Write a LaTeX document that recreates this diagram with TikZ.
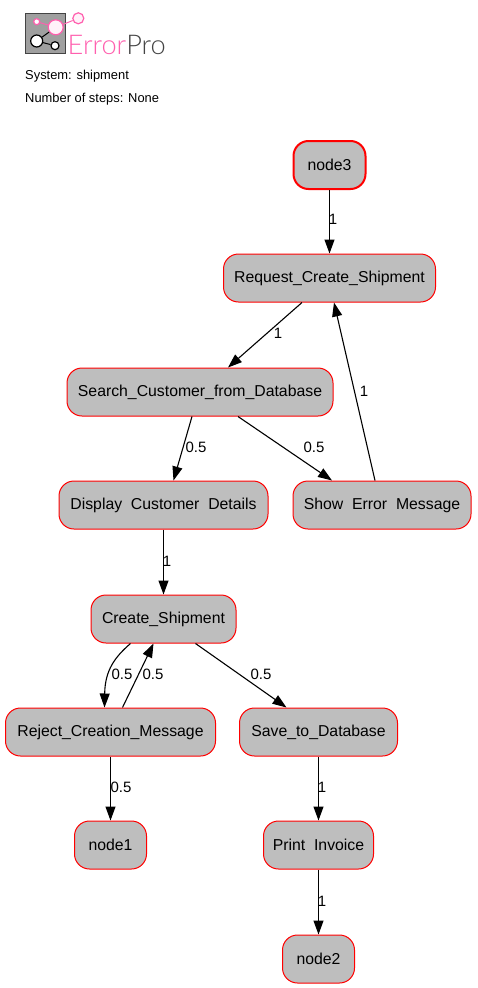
\documentclass[tikz,border=0pt]{standalone}
\usepackage{fontspec}
\setmainfont{Liberation Sans}
\newfontfamily\logofont{Lato Light}
\usetikzlibrary{arrows.meta}
\definecolor{boxgray}{HTML}{BEBEBE}
\definecolor{logopink}{HTML}{FF5FAE}
\definecolor{logodark}{HTML}{444444}
\tikzset{
  state/.style={draw=red,fill=boxgray,rounded corners=15pt,line width=1pt,inner sep=0pt,minimum height=48pt,font=\fontsize{15.8}{18}\selectfont,text=black},
  startstate/.style={state,line width=2pt},
  flow/.style={draw=black,line width=1.1pt,-{Triangle[length=14pt,width=10pt]}},
  weight/.style={inner sep=0pt,font=\fontsize{15}{17}\selectfont},
  caption/.style={inner sep=0pt,anchor=west,font=\fontsize{12.9}{15}\selectfont},
  logodot/.style={circle,inner sep=0pt,fill=white,draw=logopink,line width=1.2pt},
  logodotdark/.style={circle,inner sep=0pt,fill=white,draw=black,line width=1.2pt}
}
\begin{document}
\begin{tikzpicture}[x=1pt,y=-1pt]
\useasboundingbox (0,0) rectangle (477,988);
% logo
\draw[fill=gray!75,draw=logodark,line width=1pt] (25.5,13.5) rectangle (65,53.5);
\node[logodot,minimum size=6pt] (ldA) at (36.7,21.7) {};
\node[logodot,minimum size=15pt,fill=white!92!logopink] (ldB) at (55.7,27.3) {};
\node[logodot,minimum size=11pt,fill=white!92!logopink] (ldC) at (78.3,18.3) {};
\node[logodotdark,minimum size=12pt] (ldD) at (36.7,41) {};
\node[logodotdark,minimum size=8pt] (ldE) at (55,45.7) {};
\draw[logopink,line width=1pt] (ldA) -- (ldB);
\draw[logopink,line width=1pt] (ldB) -- (ldC);
\draw[black,line width=1pt] (ldD) -- (ldB);
\draw[black,line width=1pt] (ldD) -- (ldE);
\node[inner sep=0pt,anchor=base west,font=\logofont\fontsize{27.2}{29}\selectfont] (brand) at (67.5,54.5) {\textcolor{logopink}{Error}\textcolor{logodark}{Pro}};
\node[caption] (sys) at (25,76.5) {System: shipment};
\node[caption] (num) at (25,99.5) {Number of steps: None};
% nodes
\node[startstate,minimum width=72pt] (n3) at (329.5,165) {node3};
\node[state,minimum width=212pt] (req) at (329.5,278) {Request\_Create\_Shipment};
\node[state,minimum width=266pt] (search) at (200,392) {Search\_Customer\_from\_Database};
\node[state,minimum width=209pt] (disp) at (163.5,505) {Display\ \ Customer\ \ Details};
\node[state,minimum width=178pt] (err) at (382,505) {Show\ \ Error\ \ Message};
\node[state,minimum width=145pt] (create) at (163.5,619) {Create\_Shipment};
\node[state,minimum width=210pt] (reject) at (110.5,732) {Reject\_Creation\_Message};
\node[state,minimum width=158pt] (save) at (318.5,732) {Save\_to\_Database};
\node[state,minimum width=72pt] (n1) at (110.5,845) {node1};
\node[state,minimum width=110pt] (print) at (318.5,845) {Print\ \ Invoice};
\node[state,minimum width=72pt] (n2) at (318.5,959) {node2};
% edges
\draw[flow] (n3) -- (req);
\draw[flow] ([xshift=-27.5pt]req.south) -- ([xshift=28pt]search.north);
\draw[flow] ([xshift=-8pt]search.south) -- ([xshift=10pt]disp.north);
\draw[flow] ([xshift=38pt]search.south) -- ([xshift=-50pt]err.north);
\draw[flow] ([xshift=-7pt]err.north) -- ([xshift=4.5pt]req.south);
\draw[flow] (disp) -- (create);
\draw[flow] ([xshift=-33pt]create.south) .. controls (115,657) and (105,670) .. ([xshift=-6pt]reject.north);
\draw[flow] ([xshift=12pt]reject.north) -- ([xshift=-10pt]create.south);
\draw[flow] ([xshift=32pt]create.south) -- ([xshift=-32pt]save.north);
\draw[flow] (reject) -- (n1);
\draw[flow] (save) -- (print);
\draw[flow] (print) -- (n2);
% labels
\node[weight] (w1) at (333,219) {1};
\node[weight] (w2) at (278,333) {1};
\node[weight] (w3) at (196,447) {0.5};
\node[weight] (w4) at (314,447) {0.5};
\node[weight] (w5) at (364,391) {1};
\node[weight] (w6) at (167,561) {1};
\node[weight] (w7) at (122,674) {0.5};
\node[weight] (w8) at (153,674) {0.5};
\node[weight] (w9) at (261,674) {0.5};
\node[weight] (w10) at (121,787) {0.5};
\node[weight] (w11) at (322,787) {1};
\node[weight] (w12) at (322,901) {1};
\end{tikzpicture}
\end{document}
